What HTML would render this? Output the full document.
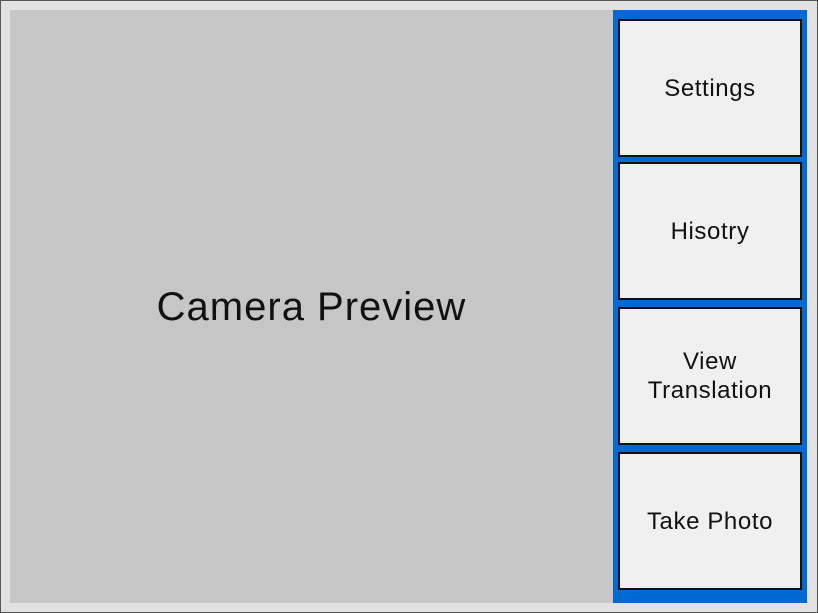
<!DOCTYPE html>
<html><head><meta charset="utf-8"><style>
*{box-sizing:border-box;margin:0;padding:0}
body{width:818px;height:613px;overflow:hidden;background:#e1e1e1;font-family:"Liberation Sans",sans-serif}
#frame{position:absolute;left:0;top:0;width:818px;height:613px;border:1px solid #555;background:#e1e1e1}
#preview{position:absolute;left:10px;top:10px;width:603px;height:593px;background:#c6c6c6;display:flex;align-items:center;justify-content:center;font-size:40px;letter-spacing:1px;color:#111}
#panel{position:absolute;left:613px;top:10px;width:194px;height:593px;background:#0069d3}
.btn{position:absolute;left:5px;width:184px;height:138px;background:#f0f0f0;border:2px solid #111;display:flex;align-items:center;justify-content:center;text-align:center;font-size:24px;letter-spacing:0.6px;color:#111;line-height:29px;cursor:pointer}
</style></head><body>
<div id="frame"></div>
<div id="preview"><span style="margin-top:2px">Camera Preview</span></div>
<div id="panel">
<div class="btn" style="top:9px">Settings</div>
<div class="btn" style="top:152px">Hisotry</div>
<div class="btn" style="top:297px">View<br>Translation</div>
<div class="btn" style="top:442px">Take Photo</div>
</div>
</body></html>
